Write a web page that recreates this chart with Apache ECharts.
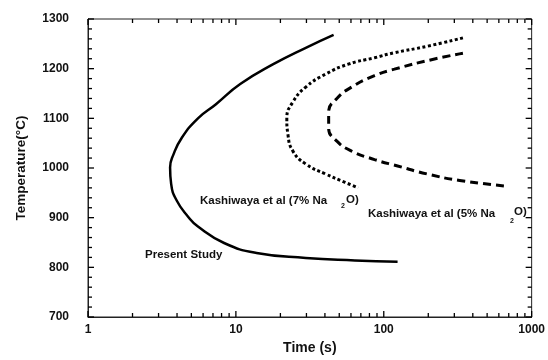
<!DOCTYPE html>
<html><head><meta charset="utf-8">
<script src="https://cdn.jsdelivr.net/npm/echarts@6/dist/echarts.min.js"></script>
<style>html,body{margin:0;padding:0;background:#fff}#c{width:548px;height:360px}</style>
</head><body><div id="c"></div>
<script>
// Data: [time (s), temperature (°C)]
const presentTime = [45.8, 29.7, 17.9, 10.7, 7.3, 5.54, 4.29, 3.78, 3.59, 3.65, 3.97, 4.75, 5.54, 8.32, 13.8, 29.7, 63.8, 124];
const presentTemp = [1268, 1242, 1209, 1169, 1128, 1100, 1060, 1027, 1001, 968, 935, 902, 882, 849, 829, 819, 814, 811];

const kash7Time = [343, 196, 118, 86.6, 57.5, 40.4, 29.7, 24.3, 22.1, 22.5, 24.3, 29.7, 40.4, 54.8, 67.1];
const kash7Temp = [1262, 1245, 1232, 1222, 1209, 1189, 1163, 1133, 1100, 1067, 1034, 1008, 988, 971, 960];

const kash5Time = [343, 217, 118, 86.6, 60.7, 48.2, 42.4, 42.4, 48.2, 60.7, 86.6, 124, 196, 326, 699];
const kash5Temp = [1231, 1219, 1199, 1186, 1163, 1140, 1113, 1080, 1054, 1034, 1017, 1004, 988, 975, 963];

const xTickValues = [1,2,3,4,5,6,7,8,9,10,20,30,40,50,60,70,80,90,100,200,300,400,500,600,700,800,900,1000];
const xLabelValues = [1, 10, 100, 1000];
const yTickValues = [700,720,740,760,780,800,820,840,860,880,900,920,940,960,980,1000,1020,1040,1060,1080,1100,1120,1140,1160,1180,1200,1220,1240,1260,1280,1300];
const yLabelValues = [700, 800, 900, 1000, 1100, 1200, 1300];

const zip = (a, b) => a.map((v, i) => [v, b[i]]);
const FONT = '"Liberation Sans", Arial, sans-serif';
const axisCol = '#222';
const X_MIN = 1, X_MAX = 1000, Y_MIN = 700, Y_MAX = 1300;

const chart = echarts.init(document.getElementById('c'));

function tickLine(x1, y1, x2, y2) {
  return { type: 'line', shape: { x1, y1, x2, y2 }, style: { stroke: '#000', lineWidth: 1.3 } };
}

chart.setOption({
  animation: false,
  backgroundColor: '#fff',
  grid: { left: 88, right: 8, top: 19, bottom: 38, show: true, borderColor: axisCol, borderWidth: 1, backgroundColor: 'transparent' },
  xAxis: {
    type: 'log', logBase: 10, min: X_MIN, max: X_MAX,
    axisLine: { show: true, onZero: false, lineStyle: { color: axisCol, width: 1 } },
    splitLine: { show: false },
    axisTick: { show: false },
    axisLabel: { show: true, customValues: xLabelValues, margin: 7, fontFamily: FONT, fontWeight: 'bold', fontSize: 12, color: '#111',
      formatter: v => String(Math.round(v)) },
    name: 'Time (s)', nameLocation: 'middle', nameGap: 24,
    nameTextStyle: { fontFamily: FONT, fontWeight: 'bold', fontSize: 14, color: '#111' },
  },
  yAxis: {
    type: 'value', min: Y_MIN, max: Y_MAX, interval: 100,
    axisLine: { show: true, onZero: false, lineStyle: { color: axisCol, width: 1 } },
    axisTick: { show: false },
    splitLine: { show: false },
    axisLabel: { show: true, margin: 19, fontFamily: FONT, fontWeight: 'bold', fontSize: 12, color: '#111', formatter: v => String(v) },
    name: 'Temperature(°C)', nameLocation: 'middle', nameGap: 60, nameRotate: 90,
    nameTextStyle: { fontFamily: FONT, fontWeight: 'bold', fontSize: 13.5, color: '#111' },
  },
  series: [
    { type: 'line', name: 'Present Study', data: zip(presentTime, presentTemp), smooth: 0.5, showSymbol: false,
      lineStyle: { color: '#000', width: 2.5 } },
    { type: 'line', name: 'Kashiwaya 7%', data: zip(kash7Time, kash7Temp), smooth: 0.5, showSymbol: false,
      lineStyle: { color: '#000', width: 3, type: [3, 2.5] } },
    { type: 'line', name: 'Kashiwaya 5%', data: zip(kash5Time, kash5Temp), smooth: 0.5, showSymbol: false,
      lineStyle: { color: '#000', width: 3, type: [8, 5] } },
    { type: 'custom', silent: true, clip: false, z: 5,
      data: xTickValues.map(v => [v, Y_MIN]),
      encode: { x: 0, y: 1 },
      renderItem: (params, api) => {
        const v = api.value(0);
        const len = xLabelValues.includes(v) ? 6 : 4;
        const b = api.coord([v, Y_MIN]);
        const t = api.coord([v, Y_MAX]);
        return { type: 'group', children: [tickLine(b[0], b[1], b[0], b[1] - len), tickLine(t[0], t[1], t[0], t[1] + len)] };
      } },
    { type: 'custom', silent: true, clip: false, z: 5,
      data: yTickValues.map(v => [X_MIN, v]),
      encode: { x: 0, y: 1 },
      renderItem: (params, api) => {
        const v = api.value(1);
        const len = yLabelValues.includes(v) ? 6 : 4;
        const l = api.coord([X_MIN, v]);
        const r = api.coord([X_MAX, v]);
        return { type: 'group', children: [tickLine(l[0], l[1], l[0] + len, l[1]), tickLine(r[0], r[1], r[0] - len, r[1])] };
      } },
  ],
  graphic: [
    { type: 'text', left: 145, top: 249, style: { text: 'Present Study', font: 'bold 11.5px ' + FONT, fill: '#111' } },
    { type: 'text', left: 200, top: 195, style: { text: 'Kashiwaya et al (7% Na', font: 'bold 11.5px ' + FONT, fill: '#111' } },
    { type: 'text', left: 341, top: 203, style: { text: '2', font: 'bold 7px ' + FONT, fill: '#111' } },
    { type: 'text', left: 346, top: 194, style: { text: 'O)', font: 'bold 11.5px ' + FONT, fill: '#111' } },
    { type: 'text', left: 368, top: 208, style: { text: 'Kashiwaya et al (5% Na', font: 'bold 11.5px ' + FONT, fill: '#111' } },
    { type: 'text', left: 510, top: 218, style: { text: '2', font: 'bold 7px ' + FONT, fill: '#111' } },
    { type: 'text', left: 514, top: 206, style: { text: 'O)', font: 'bold 11.5px ' + FONT, fill: '#111' } },
  ],
});
</script></body></html>
